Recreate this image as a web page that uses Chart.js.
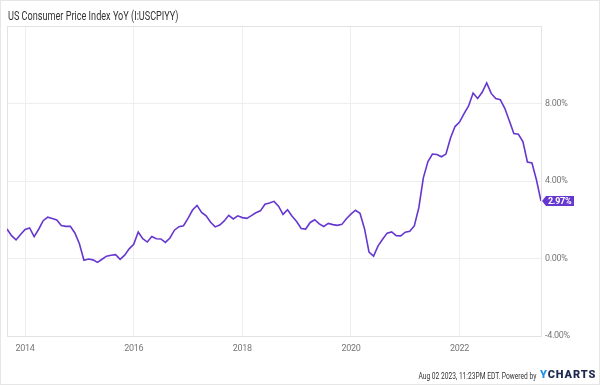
<!DOCTYPE html>
<html>
<head>
<meta charset="utf-8">
<script src="https://cdn.jsdelivr.net/npm/chart.js@4.4.0/dist/chart.umd.min.js"></script>
<style>
  html, body { margin: 0; padding: 0; background: #fff; }
  #wrap { position: relative; width: 600px; height: 385px; box-sizing: border-box; border: 1px solid #e6e6e6; overflow: hidden; }
  #chart { position: absolute; left: -1px; top: -1px; }
  .title { position: absolute; left: 7px; top: 8px; font: 12px Roboto, sans-serif; color: #333; transform: scaleX(0.76); transform-origin: left top; white-space: nowrap; }
  .foot { position: absolute; right: 63px; top: 370px; font: 9px Roboto, sans-serif; color: #333; white-space: nowrap; transform: scaleX(0.74); transform-origin: right top; }
  .logo { position: absolute; left: 539px; top: 367px; font: 900 11px Roboto, sans-serif; letter-spacing: 0.9px; color: #1d2a4d; white-space: nowrap; }
  .logo span { color: #1e8fe6; }
</style>
</head>
<body>
<div id="wrap">
  <canvas id="chart" width="600" height="385"></canvas>
  <div class="title">US Consumer Price Index YoY (I:USCPIYY)</div>
  <div class="foot">Aug 02 2023, 11:23PM EDT. Powered by</div>
  <div class="logo"><span>Y</span>CHARTS</div>
</div>
<script>
// monthly readings, Aug 2013 .. Jun 2023
var startYear = 2013, startMonth = 8;
var cpiYoY = [
  1.52, 1.18, 0.96, 1.24, 1.50,
  1.58, 1.13, 1.51, 1.95, 2.13, 2.07, 1.99, 1.70, 1.66, 1.66, 1.32, 0.76,
  -0.09, -0.03, -0.07, -0.20, -0.04, 0.12, 0.17, 0.20, -0.04, 0.17, 0.50, 0.73,
  1.37, 1.02, 0.85, 1.13, 1.02, 1.01, 0.83, 1.06, 1.46, 1.64, 1.69, 2.07,
  2.50, 2.74, 2.38, 2.20, 1.87, 1.63, 1.73, 1.94, 2.23, 2.04, 2.20, 2.11,
  2.07, 2.21, 2.36, 2.46, 2.80, 2.87, 2.95, 2.70, 2.28, 2.52, 2.18, 1.91,
  1.55, 1.52, 1.86, 2.00, 1.79, 1.65, 1.81, 1.75, 1.71, 1.76, 2.05, 2.29,
  2.49, 2.33, 1.54, 0.33, 0.12, 0.65, 0.99, 1.31, 1.37, 1.18, 1.17, 1.36,
  1.40, 1.68, 2.62, 4.16, 4.99, 5.39, 5.37, 5.25, 5.39, 6.22, 6.81, 7.04,
  7.48, 7.87, 8.54, 8.26, 8.58, 9.06, 8.52, 8.26, 8.20, 7.75, 7.11, 6.45,
  6.41, 6.04, 4.98, 4.93, 4.05, 2.97
];
var xTicks = [2014, 2016, 2018, 2020, 2022];
var yTicks = [-4, 0, 4, 8, 12];

// points sit at month end
var points = cpiYoY.map((v, i) => {
  let m = startMonth + i;
  return { x: startYear + m / 12, y: v };
});

var purple = 'rgb(102, 55, 207)';
var tickFont = { family: 'Roboto, sans-serif', size: 9 };

var boxPlugin = {
  id: 'box',
  beforeDraw(chart) {
    chart.ctx.letterSpacing = '-0.3px';
  },
  beforeDatasetsDraw(chart) {
    let a = chart.chartArea, ctx = chart.ctx;
    ctx.save();
    ctx.strokeStyle = '#e3e3e3';
    ctx.lineWidth = 1;
    ctx.strokeRect(Math.round(a.left) + 0.5, Math.round(a.top) + 0.5, Math.round(a.right - a.left), Math.round(a.bottom - a.top));
    ctx.restore();
  },
  afterDatasetsDraw(chart) {
    let meta = chart.getDatasetMeta(0);
    let last = meta.data[meta.data.length - 1];
    let val = cpiYoY[cpiYoY.length - 1];
    let ctx = chart.ctx;
    let x = last.x + 1, y = last.y;
    ctx.save();
    ctx.fillStyle = purple;
    ctx.beginPath();
    ctx.moveTo(x, y);
    ctx.lineTo(x + 4, y - 5);
    ctx.lineTo(x + 32, y - 5);
    ctx.lineTo(x + 32, y + 5);
    ctx.lineTo(x + 4, y + 5);
    ctx.closePath();
    ctx.fill();
    ctx.fillStyle = '#fff';
    ctx.font = 'bold 9px Roboto, sans-serif';
    ctx.textBaseline = 'middle';
    ctx.fillText(val.toFixed(2) + '%', x + 6, y + 0.5);
    ctx.restore();
  }
};

new Chart('chart', {
  type: 'line',
  data: {
    datasets: [{
      data: points,
      borderColor: purple,
      borderWidth: 1.6,
      pointRadius: 0,
      tension: 0,
      fill: false
    }]
  },
  options: {
    responsive: false,
    animation: false,
    devicePixelRatio: 1,
    layout: { padding: { left: 7, top: 26, right: 0, bottom: 0 } },
    plugins: { legend: { display: false }, tooltip: { enabled: false } },
    scales: {
      x: {
        type: 'linear',
        min: startYear + startMonth / 12,
        max: startYear + (startMonth + cpiYoY.length - 1) / 12,
        afterBuildTicks: s => { s.ticks = xTicks.map(v => ({ value: v })); },
        afterFit: s => { s.height = 49; },
        grid: { color: '#eeeeee', drawTicks: false },
        border: { display: false },
        ticks: { font: tickFont, color: '#777', padding: 7, maxRotation: 0, callback: v => String(v) }
      },
      y: {
        position: 'right',
        min: -4,
        max: 12,
        afterBuildTicks: s => { s.ticks = yTicks.map(v => ({ value: v })); },
        afterFit: s => { s.width = 59; },
        grid: { color: '#eeeeee', drawTicks: false },
        border: { display: false },
        ticks: { font: tickFont, color: '#777', padding: 4, callback: v => v >= 12 ? '' : v.toFixed(2) + '%' }
      }
    }
  },
  plugins: [boxPlugin]
});
</script>
</body>
</html>
